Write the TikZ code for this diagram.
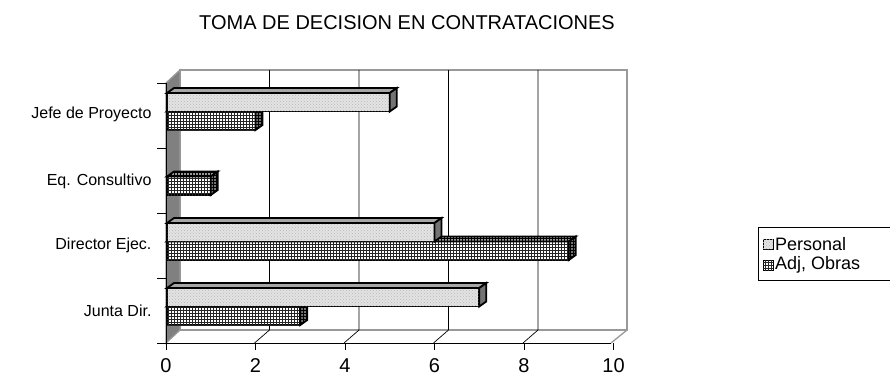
\documentclass[tikz,border=0pt]{standalone}
\usepackage{fontspec}
\setmainfont{Liberation Sans}
\usetikzlibrary{patterns}

%3D bar: top edge, value, front style, side style
\newcommand{\barra}[4]{%
  \filldraw[#3] (167,#1) rectangle ({166+#2*44.75},#1+18.5);
  \filldraw[#4] (167,#1) -- (174,#1-5) -- ({173+#2*44.75},#1-5) -- ({166+#2*44.75},#1) -- cycle; %top
  \filldraw[#4,fill=black!55] ({166+#2*44.75},#1) -- ({173+#2*44.75},#1-5) -- ({173+#2*44.75},#1+13.5) -- ({166+#2*44.75},#1+18.5) -- cycle; %side
}

\begin{document}
\begin{tikzpicture}[x=1pt,y=-1pt,
  wall/.style={draw=gray!80,line width=1.3pt},
  grid line/.style={black,line width=0.7pt},
  pers/.style={draw,line width=1.8pt,fill=gray!22,postaction={pattern=crosshatch dots,pattern color=gray!55}},
  perside/.style={draw,line width=1.8pt,fill=black!35},
  adj/.style={draw,line width=1.8pt,fill=white,postaction={pattern=grid,pattern color=black!85}},
  adjside/.style={draw,line width=1.8pt,fill=black!40,postaction={pattern=grid,pattern color=black}},
  cat/.style={anchor=east,font=\fontsize{16}{18}\selectfont},
  num/.style={font=\fontsize{20}{22}\selectfont},
  key/.style={draw,line width=0.6pt,minimum size=10pt,inner sep=0pt},
  keytext/.style={right,font=\fontsize{18}{20}\selectfont,inner sep=1.5pt}]
  \useasboundingbox (0,0) rectangle (890,376);

  %title
  \node[font=\fontsize{20}{23}\selectfont] (title) at (407,23) {TOMA DE DECISION EN CONTRATACIONES};

  %walls
  \draw[wall,fill=white] (180,70) rectangle (627,330); %back
  \filldraw[wall,fill=gray] (166,83) -- (180,70) -- (180,330) -- (166,343) -- cycle; %side
  \draw[wall] (611,343) -- (627,330); %floor edge

  %grid lines
  \draw[grid line] (269.5,70) -- (269.5,330) (254.5,343) -- (269.5,330);
  \draw[grid line] (359,70) -- (359,330) (344,343) -- (359,330);
  \draw[grid line] (448.5,70) -- (448.5,330) (433.5,343) -- (448.5,330);
  \draw[grid line] (538,70) -- (538,330) (523,343) -- (538,330);

  %axis
  \draw[line width=1pt] (166,83) -- (166,343) -- (611,343);
  \draw[line width=0.8pt] (157,83) -- (166,83) (157,148) -- (166,148) (157,213) -- (166,213)
    (157,278) -- (166,278) (157,343) -- (166,343); %category ticks
  \draw[line width=0.8pt] (166,343) -- (166,350) (255.5,343) -- (255.5,350) (345,343) -- (345,350)
    (434.5,343) -- (434.5,350) (524,343) -- (524,350) (613.5,343) -- (613.5,350); %value ticks

  %bars
  \barra{111.5}{2}{adj}{adjside} %Jefe de Proyecto
  \barra{93}{5}{pers}{perside}
  \barra{176.5}{1}{adj}{adjside} %Eq. Consultivo
  \barra{241.5}{9}{adj}{adjside} %Director Ejec.
  \barra{223}{6}{pers}{perside}
  \barra{306.5}{3}{adj}{adjside} %Junta Dir.
  \barra{288}{7}{pers}{perside}

  %labels
  \node[cat] (jefe) at (155,114) {Jefe de Proyecto};
  \node[cat] (eq) at (155,181) {Eq. Consultivo};
  \node[cat] (dir) at (155,245) {Director Ejec.};
  \node[cat] (junta) at (155,311) {Junta Dir.};
  \node[num] (n0) at (166,366) {0};
  \node[num] (n2) at (255.5,366) {2};
  \node[num] (n4) at (345,366) {4};
  \node[num] (n6) at (434.5,366) {6};
  \node[num] (n8) at (524,366) {8};
  \node[num] (n10) at (613.5,366) {10};

  %legend
  \draw[line width=0.8pt] (895,227) -- (758,227) -- (758,280) -- (895,280);
  \node[key,pers,line width=0.6pt] (kp) at (768,244) {};
  \node[key,adj,line width=0.6pt] (ka) at (768,265) {};
  \node[keytext] (lp) at (kp.east) {Personal};
  \node[keytext] (la) at (ka.east) {Adj, Obras};
\end{tikzpicture}
\end{document}
